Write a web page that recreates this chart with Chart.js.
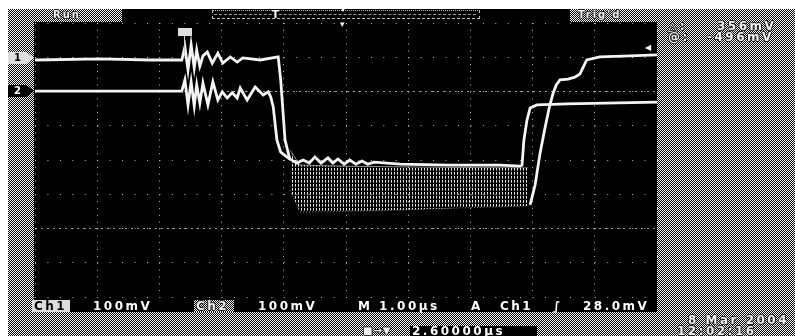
<!DOCTYPE html>
<html>
<head>
<meta charset="utf-8">
<script src="https://cdn.jsdelivr.net/npm/chart.js@4.4.0/dist/chart.umd.min.js"></script>
<style>
  body { margin: 0; width: 795px; height: 336px; background: #fff; position: relative; overflow: hidden;
         font-family: "DejaVu Sans", sans-serif; }
  .abs { position: absolute; }
  .dith { background: repeating-conic-gradient(#fff 0 25%, #000 0 50%) 0 0 / 2px 2px; }
  .txt { position: absolute; color: #fff; font-size: 12px; line-height: 12px; letter-spacing: 2.5px; white-space: nowrap; font-weight: bold; }
  .ond { text-shadow: 1px 0 0 #222, -1px 0 0 #222, 0 1px 0 #222, 0 -1px 0 #222; color: #f0f0f0; }
  .sm { font-size: 10px; line-height: 10px; letter-spacing: 2px; }
  #c { position: absolute; left: 0; top: 0; }
</style>
</head>
<body>
<div class="abs dith" style="left:8px;top:9px;width:787px;height:327px"></div>
<div class="abs" style="left:34px;top:9px;width:623px;height:303px;background:#000"></div>
<div class="abs dith" style="left:34px;top:9px;width:88px;height:13px"></div>
<div class="abs dith" style="left:570px;top:9px;width:87px;height:13px"></div>
<div class="abs" style="left:212px;top:10px;width:266px;height:7px;border:1px dashed #bbb;border-top-style:dotted"></div>
<div class="abs" style="left:214px;top:14px;width:262px;height:0;border-top:1px dashed #999"></div>

<canvas id="c" width="795" height="336"></canvas>

<!-- top bar -->
<div class="txt sm ond" style="left:53px;top:10px">Run</div>
<div class="txt sm" style="left:272px;top:10px">T</div>
<div class="txt sm" style="left:341px;top:5px;font-size:8px">▾</div>
<div class="txt sm" style="left:340px;top:19px;font-size:9px">▾</div>
<div class="txt sm ond" style="left:578px;top:10px">Trig'd</div>
<div class="abs" style="left:178px;top:28px;width:14px;height:8px;background:#ddd"></div>
<div class="abs" style="left:184px;top:36px;width:1px;height:18px;background:#ccc"></div>

<!-- channel markers -->
<div class="abs" style="left:8px;top:52px;width:26px;height:12px;background:#ddd;clip-path:polygon(0 0,70% 0,100% 50%,70% 100%,0 100%)"></div>
<div class="txt sm" style="left:14px;top:53px;color:#000">1</div>
<div class="abs" style="left:8px;top:85px;width:26px;height:12px;background:#000;clip-path:polygon(0 0,70% 0,100% 50%,70% 100%,0 100%)"></div>
<div class="txt sm" style="left:14px;top:86px">2</div>
<div class="txt sm" style="left:645px;top:43px;font-size:8px">◀</div>

<!-- readouts right -->
<div class="txt ond" style="left:668px;top:20px">△:</div>
<div class="txt ond" style="left:717px;top:20px">356mV</div>
<div class="txt ond" style="left:668px;top:31px">@:</div>
<div class="txt ond" style="left:707px;top:31px">-496mV</div>

<!-- bottom bar -->
<div class="abs" style="left:32px;top:300px;width:38px;height:12px;background:#ddd"></div>
<div class="txt" style="left:34px;top:300px;color:#000">Ch1</div>
<div class="txt" style="left:93px;top:300px">100mV</div>
<div class="abs dith" style="left:194px;top:300px;width:40px;height:12px"></div>
<div class="txt ond" style="left:196px;top:300px">Ch2</div>
<div class="txt" style="left:258px;top:300px">100mV</div>
<div class="txt" style="left:358px;top:300px">M 1.00µs</div>
<div class="txt" style="left:471px;top:300px">A</div>
<div class="txt" style="left:500px;top:300px">Ch1</div>
<div class="txt" style="left:553px;top:300px">∫</div>
<div class="txt" style="left:583px;top:300px">28.0mV</div>

<div class="abs" style="left:410px;top:326px;width:127px;height:10px;background:#000"></div>
<div class="txt ond" style="left:363px;top:325px;font-size:10px;letter-spacing:1px">■→▼</div>
<div class="txt" style="left:412px;top:325px">2.60000µs</div>
<div class="txt ond" style="left:688px;top:314px">8 Mar 2004</div>
<div class="txt ond" style="left:677px;top:325px">12:02:16</div>

<script>
// time in µs (1 µs/div), level in divisions (100 mV/div)
var ch1T = [0, 1.05, 1.85, 2.36, 2.41, 2.46, 2.51, 2.56, 2.60, 2.65, 2.70, 2.77, 2.85, 2.94, 3.02, 3.14, 3.25, 3.34, 3.62, 3.91, 3.95, 4.02, 4.10, 4.15,
            7.96, 8.04, 8.12, 8.20, 8.27, 8.33, 8.38, 8.44, 8.57, 8.68, 8.76, 8.87, 9.08, 9.57, 10];
var ch1V = [2.92, 2.95, 2.92, 2.92, 3.30, 2.63, 3.36, 2.69, 3.21, 2.74, 3.04, 3.15, 2.83, 3.12, 2.83, 3.01, 2.86, 2.98, 2.92, 3.01, 2.34, 0.58, 0.0, null,
            -1.31, -0.73, 0.20, 0.94, 1.55, 1.95, 2.19, 2.34, 2.36, 2.42, 2.51, 2.92, 3.01, 3.04, 3.07];

var ch2T = [0, 1.05, 2.36, 2.41, 2.46, 2.51, 2.56, 2.60, 2.65, 2.70, 2.78, 2.86, 2.94, 3.01, 3.09, 3.17, 3.25, 3.30, 3.41, 3.54, 3.67, 3.75, 3.79,
            3.83, 3.89, 3.95, 4.07, 4.21, 4.31, 4.41, 4.50, 4.60, 4.71, 4.79, 4.87, 4.97, 5.06, 5.16, 5.26, 5.35, 5.45, 5.87, 6.67, 7.48, 7.80,
            7.83, 7.86, 7.91, 7.96, 8.07, 8.55, 10];
var ch2V = [2.01, 2.01, 2.01, 2.34, 1.61, 2.28, 1.58, 2.19, 1.66, 2.25, 1.61, 2.28, 1.75, 1.99, 1.81, 1.96, 1.81, 2.10, 1.75, 2.13, 1.90, 1.99, 1.84,
            1.55, 0.58, 0.23, 0.06, -0.09, 0.0, -0.09, 0.09, -0.09, 0.06, -0.09, 0.03, -0.12, 0.0, -0.12, -0.03, -0.12, -0.06, -0.12, -0.15, -0.15, -0.18,
            -0.15, 0.58, 1.17, 1.52, 1.61, 1.64, 1.69];

// Ch1 ringing band (envelope of the fast oscillation)
var bandT  = [4.10, 4.26, 5.00, 5.87, 6.83, 7.93];
var bandHi = [0.29, -0.15, -0.18, -0.20, -0.22, -0.23];
var bandLo = [-0.88, -1.52, -1.50, -1.46, -1.40, -1.34];

// cursor levels (div)
var cursorLevels = [2.0, -2.0];

function pts(t, v) { return t.map(function (x, i) { return { x: x, y: v[i] }; }); }

var tile = document.createElement('canvas');
tile.width = 3; tile.height = 4;
var tctx = tile.getContext('2d');
tctx.fillStyle = '#e4e4e4';
tctx.fillRect(1, 0, 1, 2);
tctx.fillStyle = '#999';
tctx.fillRect(1, 2, 1, 1);
var ctx = document.getElementById('c').getContext('2d');
var bandFill = ctx.createPattern(tile, 'repeat');

var datasets = [
    { data: pts(ch2T, ch2V), borderColor: '#f4f4f4', borderWidth: 2.8, spanGaps: false },
    { data: pts(ch1T, ch1V), borderColor: '#f4f4f4', borderWidth: 2.8, spanGaps: false },
    { data: pts(bandT, bandHi), borderColor: 'rgba(220,220,220,0.6)', borderWidth: 1, fill: '+1', backgroundColor: bandFill },
    { data: pts(bandT, bandLo), borderColor: 'rgba(220,220,220,0.6)', borderWidth: 1, borderDash: [1, 2] }
];
cursorLevels.forEach(function (lv) {
    datasets.push({ data: [{ x: 0, y: lv }, { x: 10, y: lv }], borderColor: 'rgba(200,200,200,0.8)', borderWidth: 1, borderDash: [2, 4] });
});

new Chart(ctx, {
    type: 'line',
    data: { datasets: datasets },
    options: {
        responsive: false,
        animation: false,
        devicePixelRatio: 1,
        layout: { padding: { left: 35, right: 138, top: 23, bottom: 39 } },
        elements: { point: { radius: 0 }, line: { tension: 0 } },
        plugins: { legend: { display: false }, tooltip: { enabled: false } },
        scales: {
            x: {
                type: 'linear', min: 0, max: 10,
                ticks: { display: false, stepSize: 1 },
                grid: { color: 'rgba(210,210,210,0.9)', drawTicks: false },
                border: { display: false, dash: [1, 5.85] }
            },
            y: {
                type: 'linear', min: -4, max: 4,
                ticks: { display: false, stepSize: 1 },
                grid: { color: 'rgba(210,210,210,0.9)', drawTicks: false },
                border: { display: false, dash: [1, 11.44] }
            }
        }
    }
});
</script>
</body>
</html>
